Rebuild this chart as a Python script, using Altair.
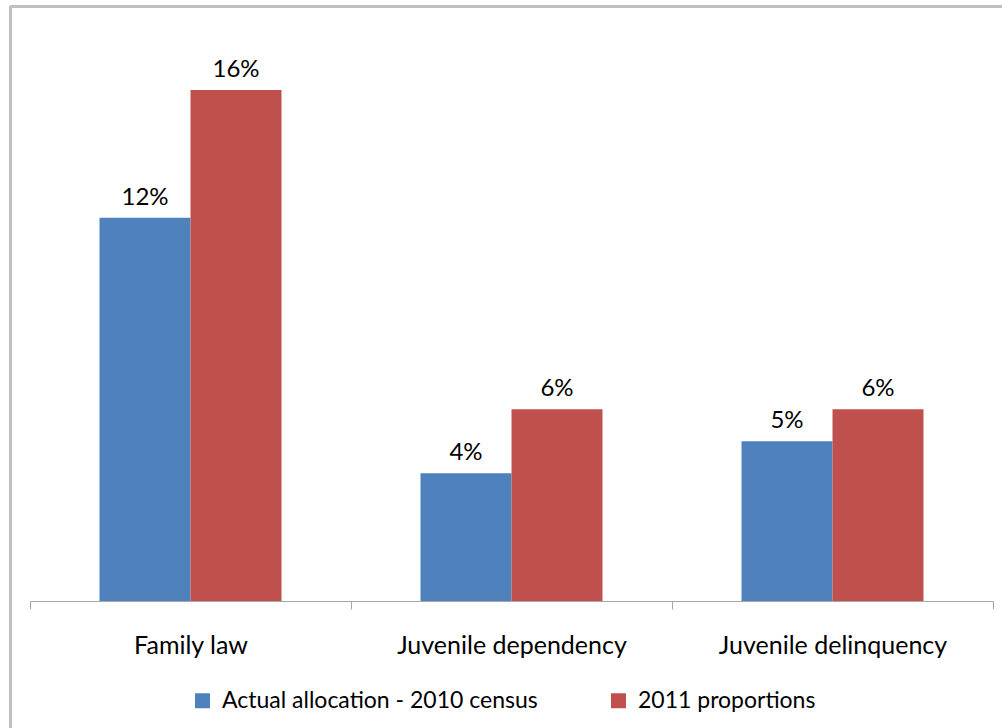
import altair as alt
import pandas as pd

categories = ["Family law", "Juvenile dependency", "Juvenile delinquency"]
series = ["Actual allocation - 2010 census", "2011 proportions"]
actual_2010 = [0.12, 0.04, 0.05]
prop_2011 = [0.16, 0.06, 0.06]
colors = ["#4F81BD", "#C0504D"]

rows = []
for c, a, p in zip(categories, actual_2010, prop_2011):
    rows.append({"category": c, "series": series[0], "value": a})
    rows.append({"category": c, "series": series[1], "value": p})
df = pd.DataFrame(rows)

FONT = "Lato"

base = alt.Chart(df).encode(
    x=alt.X("category:N", sort=categories, title=None,
            scale=alt.Scale(paddingInner=0, paddingOuter=0),
            axis=alt.Axis(labelAngle=0, tickBand="extent", domainColor="#A6A6A6",
                          tickColor="#A6A6A6", tickSize=8, labelPadding=24,
                          labelFontSize=25, labelFont=FONT, labelColor="#000000",
                          labelLimit=0, grid=False)),
    xOffset=alt.XOffset("series:N", sort=series,
                        scale=alt.Scale(paddingInner=0, paddingOuter=0.764)),
    y=alt.Y("value:Q", scale=alt.Scale(domain=[0, 0.18]), axis=None),
)

bars = base.mark_bar().encode(
    color=alt.Color("series:N", sort=series,
                    scale=alt.Scale(domain=series, range=colors),
                    legend=alt.Legend(title=None, orient="none", direction="horizontal",
                                      legendX=161, legendY=663, symbolType="square",
                                      symbolSize=225, symbolStrokeWidth=0,
                                      labelFontSize=23, labelFont=FONT, labelLimit=0,
                                      labelColor="#000000", columnPadding=69,
                                      labelOffset=8)),
)

labels = base.mark_text(dy=-13, baseline="alphabetic", fontSize=24, font=FONT,
                        color="#000000").encode(
    text=alt.Text("value:Q", format=".0%"),
)

frame_top = alt.Chart(df).mark_rule(color="#BFBFBF", strokeWidth=2).encode(
    x=alt.value(-20), x2=alt.value(1100), y=alt.value(-19.5))
frame_left = alt.Chart(df).mark_rule(color="#BFBFBF", strokeWidth=2).encode(
    x=alt.value(-19.5), y=alt.value(-20), y2=alt.value(900))

chart = alt.layer(bars, labels, frame_top, frame_left).properties(
    width=963, height=575,
    autosize=alt.AutoSizeParams(type="none"),
    padding={"left": 30, "top": 26, "right": 9, "bottom": 127},
    background="white",
).configure_view(stroke=None)

chart.save("out.html", embed_options={"renderer": "svg", "actions": False})
